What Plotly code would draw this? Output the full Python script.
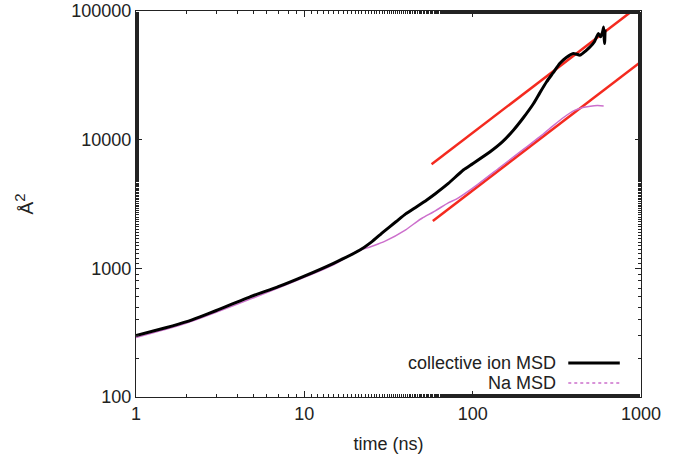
import plotly.graph_objects as go

# ---- data ----
coll_t = [1, 1.5, 2, 2.4, 3, 4.76, 7, 10, 14.9, 21.4, 25, 29.5, 35, 40, 46.5, 53.4, 60,
          71.7, 88, 100, 127, 150, 175, 200, 230, 250, 275, 300, 330, 360, 396, 435,
          470, 499, 530, 558, 575, 590, 600, 605, 608, 612]
coll_msd = [300, 345, 385, 420, 470, 600, 720, 870, 1094, 1387, 1600, 1923, 2300, 2650,
            3012, 3400, 3800, 4570, 5810, 6500, 8050, 9600, 11900, 14800, 19100, 23000,
            28200, 33000, 39200, 43500, 46800, 45400, 49000, 52700, 58000, 67000, 63000,
            68000, 75000, 60000, 56000, 72000]

na_t = [1, 2, 5, 10, 15, 20, 25, 30, 40, 46.5, 50, 60, 72, 80, 100, 150, 200, 250, 300,
        350, 400, 450, 500, 550, 600]
na_msd = [290, 375, 590, 850, 1070, 1330, 1480, 1620, 1990, 2300, 2450, 2800, 3240, 3450,
          4200, 6300, 8400, 10500, 12800, 15000, 16800, 17800, 18200, 18400, 18300]

# linear (slope-1) fits  y = D * t
fit_upper_t = [57, 1000]
fit_upper_D = 113.0
fit_lower_t = [58, 1000]
fit_lower_D = 40.3

x_tickvals = [1, 10, 100, 1000]
x_ticktext = ["1", "10", "100", "1000"]
y_tickvals = [100, 1000, 10000, 100000]
y_ticktext = ["100", "1000", "10000", "100000"]

series_names = ["collective ion MSD", "Na MSD"]

FONT = "Liberation Sans, Arial, sans-serif"
RED = "#f42a1f"
PINK = "#cc6fcc"

fig = go.Figure()
fig.add_trace(go.Scatter(x=fit_upper_t, y=[fit_upper_D * t for t in fit_upper_t],
                         mode="lines", line=dict(color=RED, width=2.5), showlegend=False))
fig.add_trace(go.Scatter(x=fit_lower_t, y=[fit_lower_D * t for t in fit_lower_t],
                         mode="lines", line=dict(color=RED, width=2.5), showlegend=False))
fig.add_trace(go.Scatter(x=na_t, y=na_msd, mode="lines", name=series_names[1],
                         line=dict(color=PINK, width=1.5, shape="spline", smoothing=0.8),
                         showlegend=False))
fig.add_trace(go.Scatter(x=coll_t, y=coll_msd, mode="lines", name=series_names[0],
                         line=dict(color="black", width=3, shape="spline", smoothing=0.5),
                         showlegend=False))

# legend (gnuplot style: text left, sample right)
legend_rows = [(0.088, "black", 3, "solid"), (0.036, PINK, 1.5, "dot")]
for name, (yp, col, w, dash) in zip(series_names, legend_rows):
    fig.add_annotation(xref="paper", yref="paper", x=0.836, y=yp, text=name,
                       showarrow=False, xanchor="right", yanchor="middle",
                       font=dict(family=FONT, size=18, color="#222"))
    fig.add_shape(type="line", xref="paper", yref="paper", x0=0.856, x1=0.958,
                  y0=yp, y1=yp, line=dict(color=col, width=w, dash=dash))

axis_common = dict(type="log", ticks="inside", ticklen=6, tickwidth=1, tickcolor="#222",
                   mirror="ticks", showline=True, linecolor="#222", linewidth=1.2,
                   showgrid=False, zeroline=False, automargin=False,
                   tickfont=dict(family=FONT, size=18, color="#222"),
                   minor=dict(ticks="inside", ticklen=3, tickcolor="#222", showgrid=False))

fig.update_xaxes(range=[0, 3], tickvals=x_tickvals, ticktext=x_ticktext,
                 title=dict(text="time (ns)", font=dict(family=FONT, size=18, color="#222"),
                            standoff=14),
                 **axis_common)
fig.update_yaxes(range=[2, 5], tickvals=y_tickvals, ticktext=y_ticktext,
                 title=dict(text="Å<sup><span style='font-size:15px'>2</span></sup>",
                            font=dict(family=FONT, size=19, color="#222"),
                            standoff=32),
                 **axis_common)

fig.update_layout(width=683, height=459, margin=dict(l=136, r=42, t=11, b=62),
                  paper_bgcolor="white", plot_bgcolor="white", showlegend=False)

fig.write_html("out.html", config={"displayModeBar": False},
               post_script="document.body.style.margin='0';document.body.style.overflow='hidden';")
